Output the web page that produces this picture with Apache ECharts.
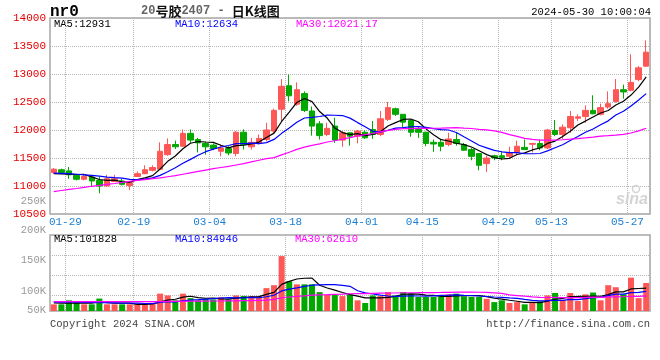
<!DOCTYPE html>
<html><head><meta charset="utf-8">
<script src="https://cdn.jsdelivr.net/npm/echarts@6/dist/echarts.min.js"></script>
<style>html,body{margin:0;padding:0;background:#fff}#c{width:660px;height:360px}</style>
</head><body><div id="c"></div>
<script>
const dates = ['01-26','01-29','01-30','01-31','02-01','02-02','02-05','02-06','02-07','02-08',
 '02-19','02-20','02-21','02-22','02-23','02-26','02-27','02-28','02-29','03-01',
 '03-04','03-05','03-06','03-07','03-08','03-11','03-12','03-13','03-14','03-15',
 '03-18','03-19','03-20','03-21','03-22','03-25','03-26','03-27','03-28','03-29',
 '04-01','04-02','04-03','04-08','04-09','04-10','04-11','04-12','04-15','04-16',
 '04-17','04-18','04-19','04-22','04-23','04-24','04-25','04-26','04-29','04-30',
 '05-06','05-07','05-08','05-09','05-10','05-13','05-14','05-15','05-16','05-17',
 '05-20','05-21','05-22','05-23','05-24','05-27','05-28','05-29','05-30'];
const opens = [11240,11290,11270,11190,11120,11160,11100,11000,11080,11090,
 11010,11170,11220,11280,11300,11560,11740,11710,11940,11830,
 11760,11730,11620,11670,11580,11960,11700,11760,11830,11980,
 12370,12790,12460,12650,12340,12110,11920,12070,11820,11950,
 11890,11960,12010,11920,12190,12380,12280,12170,12010,11960,
 11780,11780,11740,11830,11740,11650,11580,11400,11540,11540,
 11530,11600,11690,11745,11760,11680,11990,11920,12040,12210,
 12240,12350,12280,12410,12510,12720,12710,12900,13140];
const closes = [11300,11240,11200,11120,11170,11090,11000,11130,11130,11030,
 11060,11220,11290,11330,11620,11740,11700,11940,11820,11770,
 11700,11670,11680,11590,11960,11740,11780,11850,12000,12350,
 12780,12610,12720,12350,12070,11900,12030,11820,11950,11890,
 11980,11860,11920,12200,12400,12280,12140,11960,11960,11760,
 11750,11710,11840,11760,11640,11530,11370,11500,11500,11510,
 11590,11710,11650,11760,11680,12000,11920,12050,12240,12235,
 12350,12290,12400,12470,12720,12680,12850,13110,13390];
const lows = [11220,11220,11130,11100,11100,11000,10870,10990,11070,11010,
 10930,11160,11210,11260,11290,11540,11660,11700,11770,11600,
 11560,11640,11530,11550,11530,11650,11650,11740,11800,11940,
 12150,12510,12430,12320,11900,11830,11890,11770,11700,11720,
 11760,11840,11840,11890,12160,12250,12040,11880,11860,11710,
 11610,11620,11710,11720,11630,11460,11280,11250,11460,11460,
 11500,11560,11650,11600,11640,11660,11890,11840,11950,12160,
 12130,12280,12260,12380,12490,12560,12690,12870,13130];
const highs = [11320,11310,11340,11210,11210,11180,11170,11200,11200,11130,
 11070,11260,11370,11370,11780,11850,11810,12010,12010,11860,
 11790,11760,11740,11710,11980,12010,11860,11920,12130,12380,
 12910,12990,12850,12690,12420,12160,12130,12220,11980,11960,
 12000,11990,12160,12340,12500,12400,12280,12190,12070,11970,
 11830,11840,11950,11950,11770,11680,11580,11540,11560,11620,
 11700,11810,11830,11770,11830,12020,12180,12100,12340,12280,
 12440,12620,12470,12690,12910,12810,13350,13140,13600];
const volumes = [30000,30000,48000,40000,30000,30000,56000,30000,30000,30000,
 30000,30000,31000,37000,78000,70000,48000,78000,58000,48000,
 55000,52000,62000,52000,70000,68000,66000,66000,103000,116000,
 247000,134000,120000,120000,120000,85000,73000,72000,67000,73000,
 48000,36000,70000,67000,85000,70000,85000,78000,63000,63000,
 63000,63000,75000,78000,66000,63000,63000,55000,40000,48000,
 36000,40000,30000,40000,43000,70000,81000,50000,81000,45000,
 75000,83000,48000,116000,107000,75000,150000,58000,126000];
// moving-average values before enough in-chart history exists
const ma5Head = [11220,11215,11210,11205];
const ma10Head = [11230,11225,11220,11210,11200,11190,11175,11160,11150];
const ma30Head = [10900,10920,10940,10955,10975,10995,11010,11030,11045,11065,
 11085,11100,11115,11130,11145,11165,11185,11210,11235,11260,
 11285,11310,11330,11350,11375,11400,11430,11460,11490];
const vma5Head = [36000,35000,35000,36000];
const vma10Head = [40000,40000,40000,40000,39000,39000,38000,38000,37000];
const vma30Head = [42000,42000,42000,42000,42000,42000,42000,42000,42000,42000,
 42000,42000,42000,42000,42000,43000,43000,43000,44000,44000,
 44000,45000,45000,46000,46000,47000,47000,48000,49000];
const xLabelDates = ['01-29','02-19','03-04','03-18','04-01','04-15','04-29','05-13','05-27'];
const volGridDates = ['01-29','02-19','03-18','04-15','04-29','05-13'];
const volTickLabels = ['250K','200K','150K','100K','50K'];
const maTexts = ['MA5:12931','MA10:12634','MA30:12021.17'];
const volMaTexts = ['MA5:101828','MA10:84946','MA30:62610'];

function movingAvg(src, n, head) {
  return src.map((v, i) => {
    if (i < n - 1) return head[i];
    let s = 0; for (let k = i - n + 1; k <= i; k++) s += src[k];
    return +(s / n).toFixed(2);
  });
}
const upColor = '#ff5656', downColor = '#00a800';
const mono = '"Liberation Mono", "DejaVu Sans Mono", monospace';
const labelIdx = xLabelDates.map(d => dates.indexOf(d));
const splitIdx = labelIdx.map(i => i + 1);
const volSplitIdx = volGridDates.map(d => dates.indexOf(d) + 1);

const candles = dates.map((d, i) => [opens[i], closes[i], lows[i], highs[i]]);
const volBars = volumes.map((v, i) => ({ value: v, itemStyle: { color: closes[i] >= opens[i] ? upColor : downColor } }));

const chart = echarts.init(document.getElementById('c'), null, { renderer: 'canvas', width: 660, height: 360 });
const frame = '#a6a6a6';
const dotted = { color: '#b4b4b4', type: 'dotted', width: 1 };
function maLine(name, data, color, xi, yi) {
  return { name, type: 'line', data, xAxisIndex: xi, yAxisIndex: yi, symbol: 'none', silent: true,
    lineStyle: { color, width: 1.2 }, z: 5 };
}
chart.setOption({
  animation: false,
  backgroundColor: '#fff',
  grid: [
    { left: 50, right: 10, top: 18, height: 196, show: true, borderColor: frame, borderWidth: 1.5 },
    { left: 50, right: 10, top: 235, height: 76, show: true, borderColor: frame, borderWidth: 1.5 }
  ],
  xAxis: [
    { type: 'category', gridIndex: 0, data: dates, boundaryGap: true,
      axisLine: { show: false }, axisTick: { show: false },
      axisLabel: { interval: (i) => labelIdx.includes(i), margin: 3,
        formatter: v => '{t|' + v + '}',
        rich: { t: { padding: [0, 0, 0, 8], color: '#1a7fd4', fontFamily: mono, fontSize: 11 } } },
      splitLine: { show: true, interval: (i) => splitIdx.includes(i), lineStyle: dotted } },
    { type: 'category', gridIndex: 1, data: dates, boundaryGap: true,
      axisLine: { show: false }, axisTick: { show: false }, axisLabel: { show: false },
      splitLine: { show: true, interval: (i) => volSplitIdx.includes(i), lineStyle: dotted } }
  ],
  yAxis: [
    { type: 'value', gridIndex: 0, min: 10500, max: 14000, interval: 500,
      axisLine: { show: false }, axisTick: { show: false },
      axisLabel: { color: '#e80000', fontFamily: mono, fontSize: 11, margin: 4, padding: [0, 0, 4, 0],
        formatter: v => String(v) },
      splitLine: { show: true, lineStyle: dotted } },
    { type: 'value', gridIndex: 1, min: 0, max: 342000,
      axisLine: { show: false },
      axisTick: { show: false, customValues: [69000, 160500, 252000] },
      axisLabel: { show: false },
      splitLine: { show: true, lineStyle: dotted } }
  ],
  series: [
    { type: 'candlestick', xAxisIndex: 0, yAxisIndex: 0, data: candles, barWidth: 6, silent: true,
      itemStyle: { color: upColor, color0: downColor, borderColor: upColor, borderColor0: downColor, borderWidth: 1 } },
    maLine('MA5', movingAvg(closes, 5, ma5Head), '#000000', 0, 0),
    maLine('MA10', movingAvg(closes, 10, ma10Head), '#0000ff', 0, 0),
    maLine('MA30', movingAvg(closes, 30, ma30Head), '#ff00ff', 0, 0),
    { type: 'bar', xAxisIndex: 1, yAxisIndex: 1, data: volBars, barWidth: 6, silent: true },
    maLine('VMA5', movingAvg(volumes, 5, vma5Head), '#000000', 1, 1),
    maLine('VMA10', movingAvg(volumes, 10, vma10Head), '#0000ff', 1, 1),
    maLine('VMA30', movingAvg(volumes, 30, vma30Head), '#ff00ff', 1, 1)
  ],
  graphic: [
    { type: 'text', x: 50, y: 12, style: { text: 'nr0', font: 'bold 16px ' + mono, fill: '#000', verticalAlign: 'middle' } },
    { type: 'text', x: 141, y: 11, style: { text: '{d|20}{c|号胶}{d|2407 - }{c|日K线图}', verticalAlign: 'middle',
        rich: { d: { fontFamily: mono, fontSize: 12, fontWeight: 'bold', fill: '#666' },
                c: { fontFamily: '"Noto Sans CJK SC"', fontSize: 13, fontWeight: 'bold', fill: '#111' } } } },
    { type: 'text', x: 651, y: 12, style: { text: '2024-05-30 10:00:04', font: '10.5px ' + mono, fill: '#000', align: 'right', verticalAlign: 'middle' } },
    { type: 'text', x: 54, y: 24, style: { text: maTexts[0], font: '10.5px ' + mono, fill: '#000', verticalAlign: 'middle' } },
    { type: 'text', x: 175, y: 24, style: { text: maTexts[1], font: '10.5px ' + mono, fill: '#0000ff', verticalAlign: 'middle' } },
    { type: 'text', x: 296, y: 24, style: { text: maTexts[2], font: '10.5px ' + mono, fill: '#ff00ff', verticalAlign: 'middle' } },
    { type: 'text', x: 54, y: 239, style: { text: volMaTexts[0], font: '10.5px ' + mono, fill: '#000', verticalAlign: 'middle' } },
    { type: 'text', x: 175, y: 239, style: { text: volMaTexts[1], font: '10.5px ' + mono, fill: '#0000ff', verticalAlign: 'middle' } },
    { type: 'text', x: 295, y: 239, style: { text: volMaTexts[2], font: '10.5px ' + mono, fill: '#ff00ff', verticalAlign: 'middle' } },
    { type: 'text', x: 46, y: 201, style: { text: volTickLabels[0], font: '10.5px ' + mono, fill: '#999', align: 'right', verticalAlign: 'middle' } },
    { type: 'text', x: 46, y: 230, style: { text: volTickLabels[1], font: '10.5px ' + mono, fill: '#999', align: 'right', verticalAlign: 'middle' } },
    { type: 'text', x: 46, y: 260, style: { text: volTickLabels[2], font: '10.5px ' + mono, fill: '#999', align: 'right', verticalAlign: 'middle' } },
    { type: 'text', x: 46, y: 291, style: { text: volTickLabels[3], font: '10.5px ' + mono, fill: '#999', align: 'right', verticalAlign: 'middle' } },
    { type: 'text', x: 46, y: 310, style: { text: volTickLabels[4], font: '10.5px ' + mono, fill: '#999', align: 'right', verticalAlign: 'middle' } },
    { type: 'text', x: 50, y: 324, style: { text: 'Copyright 2024 SINA.COM', font: '10.5px ' + mono, fill: '#444', verticalAlign: 'middle' } },
    { type: 'text', x: 650, y: 324, style: { text: 'http://finance.sina.com.cn', font: '10.5px ' + mono, fill: '#444', align: 'right', verticalAlign: 'middle' } },
    { type: 'text', x: 648, y: 200, z: 1, style: { text: 'sina', font: 'italic bold 16px "Liberation Sans"', fill: '#d4d4d4', align: 'right', verticalAlign: 'middle' } },
    { type: 'circle', shape: { cx: 636, cy: 189, r: 3.5 }, z: 1, style: { fill: 'none', stroke: '#d4d4d4', lineWidth: 1.5 } }
  ]
});
</script>
</body></html>
